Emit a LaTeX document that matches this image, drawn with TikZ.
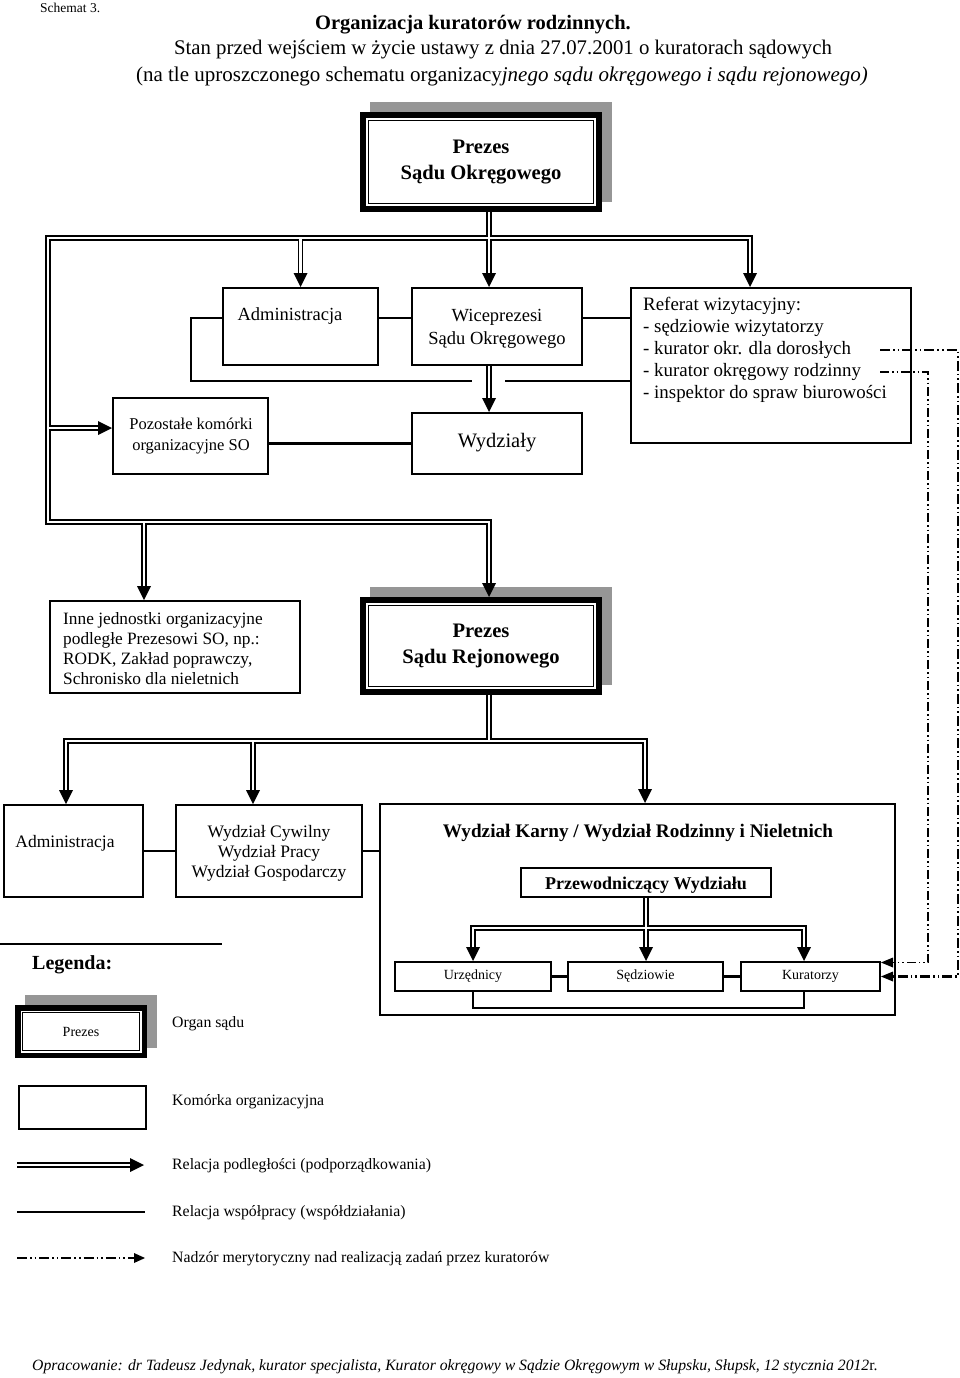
\documentclass[tikz,border=0pt]{standalone}
\usepackage{fontspec}
\setmainfont{Liberation Serif}
\usetikzlibrary{calc}
\definecolor{shadowgray}{RGB}{150,150,150}
\newcommand\fs[2]{\fontsize{#1pt}{#2pt}\selectfont}
\newcommand\tipS[1]{\fill (#1) -- ++(-7,-14) -- ++(14,0) -- cycle;}
\newcommand\tipE[1]{\fill (#1) -- ++(-14,-7) -- ++(0,14) -- cycle;}
\newcommand\tipW[1]{\fill (#1) -- ++(12,-5) -- ++(0,10) -- cycle;}
\newcommand\tipEs[1]{\fill (#1) -- ++(-11,-5) -- ++(0,10) -- cycle;}
% box by outer edges: name, x1, y1, x2, y2, text
\newcommand\bx[6]{\node[box, minimum width={#4-#2-1.6}, minimum height={#5-#3-1.6}] (#1) at ({(#2+#4)/2},{(#3+#5)/2}) {#6};}
% organ box: name, x1, y1, x2, y2, thickness, font, text
\newcommand\org[8]{%
  \fill[shadowgray] ({#2+10},{#3-10}) rectangle ({#4+10},{#5-10});
  \node[organ, line width=#6pt, font=#7, minimum width={#4-#2-#6}, minimum height={#5-#3-#6}] (#1) at ({(#2+#4)/2},{(#3+#5)/2}) {#8};
  \draw[line width=1.2pt] ([shift={(#6+2.2,#6+2.2)}]#1.north west) rectangle ([shift={(-#6-2.2,-#6-2.2)}]#1.south east);}
\newcommand\blk[2]{\draw[dblk,#1] #2;}
\newcommand\wht[2]{\draw[dwht,#1] #2;}
\newcommand\subnet[1]{%
  #1{arr}{(xso |- pso.south) -- (xso |- wice.north)}%
  #1{arrB}{(br |- psr.north) -- (br) -- (bl) -- (tl) -- (tr) -- (tr |- ref.north)}%
  #1{arr}{(adm.north |- tl) -- (adm.north)}%
  #1{arr}{(pl) -- (pl -| poz.west)}%
  #1{arr}{(xso |- wice.south) -- (xso |- wyd.north)}%
  #1{arr}{(ji) -- (ji |- inne.north)}%
  #1{plain}{(xso |- psr.south) -- (jb)}%
  #1{arrB}{(ja |- admR.north) -- (ja) -- (jk) -- (jk |- wk.north)}%
  #1{arr}{(jc) -- (jc |- wc.north)}%
  #1{arr}{(prz.south) -- (prz.south |- sed.north)}%
  #1{arrB}{(ju |- urz.north) -- (ju) -- (jkr) -- (jkr |- kur.north)}%
  #1{arr}{(ld1) -- (ld2)}%
}
\begin{document}
\begin{tikzpicture}[x=1pt,y=-1pt,
  box/.style={draw, line width=1.6pt, inner sep=0pt, align=center},
  organ/.style={draw, fill=white, inner sep=0pt, align=center},
  txt/.style={inner sep=0pt, align=center},
  dblk/.style={line width=5.4pt, line join=miter},
  dwht/.style={white, line width=2.4pt, line join=miter},
  arr/.style={shorten >=13pt},
  arrB/.style={shorten >=13pt, shorten <=13pt},
  plain/.style={},
  coop/.style={line width=2.6pt},
  nadz/.style={line width=2.2pt, dash pattern=on 10pt off 3pt on 1.6pt off 3pt on 1.6pt off 3pt},
  nadzb/.style={line width=1.5pt, dash pattern=on 9pt off 3pt on 1.5pt off 3pt on 1.5pt off 3pt}]
\useasboundingbox (0,0) rectangle (960,1378);
\fill[white] (0,0) rectangle (960,1378);

% ---- header
\node[txt, anchor=west, font=\fs{13.5}{16}] (schem) at (40,8) {Schemat 3.};
\node[txt, font=\bfseries\fs{20.5}{24}] (tit1) at (473,25) {Organizacja kuratorów rodzinnych.};
\node[txt, font=\fs{20.8}{24}] (tit2) at (503,50) {Stan przed wejściem w życie ustawy z dnia 27.07.2001 o kuratorach sądowych};
\node[txt, font=\fs{21}{24}] (tit3) at (502,76) {(na tle uproszczonego schematu organizacy\textit{jnego sądu okręgowego i sądu rejonowego)}};

% ---- coordinates
\coordinate (xso) at (489,0);
\coordinate (tl) at (48,238);
\coordinate (tr) at (750,238);
\coordinate (bl) at (48,522);
\coordinate (br) at (489,522);
\coordinate (pl) at (48,428);
\coordinate (ji) at (144,522);
\coordinate (ja) at (66,741);
\coordinate (jk) at (645,741);
\coordinate (jc) at (253,741);
\coordinate (jb) at (489,741);
\coordinate (ju) at (473,928);
\coordinate (jkr) at (804,928);
\coordinate (ld1) at (17,1165);
\coordinate (ld2) at (144,1165);
\coordinate (y318) at (0,318);
\coordinate (lp) at (191,318);
\coordinate (g1) at (472,381);
\coordinate (g2) at (505,381);
\coordinate (y1008) at (0,1008);

% ---- boxes
\org{pso}{360}{112}{602}{212}{6}{\bfseries\fs{20.6}{26}}{Prezes\\Sądu Okręgowego}
\bx{adm}{222}{287}{379}{366}{}
\bx{wice}{411}{287}{583}{366}{}
\bx{ref}{630}{287}{912}{444}{}
\bx{poz}{112}{397}{269}{475}{}
\bx{wyd}{411}{412}{583}{475}{}
\bx{inne}{49}{600}{301}{694}{}
\org{psr}{360}{597}{602}{695}{6}{\bfseries\fs{20.6}{26}}{Prezes\\Sądu Rejonowego}
\bx{admR}{3}{804}{144}{898}{}
\bx{wc}{175}{804}{363}{898}{}
\bx{wk}{379}{803}{896}{1016}{}
\bx{prz}{520}{867}{772}{898}{}
\bx{urz}{394}{961}{552}{992}{\fs{14}{16}Urzędnicy}
\bx{sed}{567}{961}{724}{992}{\fs{14}{16}Sędziowie}
\bx{kur}{740}{961}{881}{992}{\fs{14}{16}Kuratorzy}

% ---- box texts
\node[txt, font=\fs{18.5}{22}] (admt) at (290,316) {Administracja};
\node[txt, font=\fs{18.5}{23}] (wicet) at (497,329) {Wiceprezesi\\Sądu Okręgowego};
\node[txt, font=\fs{20.5}{22}] (wydt) at (497,443) {Wydziały};
\node[txt, font=\fs{16.5}{21}] (pozt) at (191,436) {Pozostałe komórki\\organizacyjne SO};
\node[txt, align=left, anchor=north west, font=\fs{18.9}{22}] (reft) at (643,297) {Referat wizytacyjny:\\- sędziowie wizytatorzy\\- kurator okr. dla dorosłych\\- kurator okręgowy rodzinny\\- inspektor do spraw biurowości};
\node[txt, align=left, anchor=west, font=\fs{17.3}{20}] (innet) at (63,649) {Inne jednostki organizacyjne\\podległe Prezesowi SO, np.:\\RODK, Zakład poprawczy,\\Schronisko dla nieletnich};
\node[txt, font=\fs{17.5}{20}] (admRt) at (65,843) {Administracja};
\node[txt, font=\fs{17.5}{20}] (wct) at (269,853) {Wydział Cywilny\\Wydział Pracy\\Wydział Gospodarczy};
\node[txt, font=\bfseries\fs{19.2}{22}] (wkt) at (638,833) {Wydział Karny / Wydział Rodzinny i Nieletnich};
\node[txt, font=\bfseries\fs{18}{20}] (przt) at (646,885) {Przewodniczący Wydziału};

% ---- legend
\draw[line width=1.4pt] (0,944) coordinate (lg1) -- (222,944) coordinate (lg2);
\node[txt, anchor=west, font=\bfseries\fs{20}{24}] (leg) at (32,965) {Legenda:};
\org{lprez}{15}{1005}{147}{1058}{5.5}{\fs{14}{16}}{Prezes}
\node[txt, anchor=west, font=\fs{15.8}{18}] (l1) at (172,1024) {Organ sądu};
\bx{lbox}{18}{1085}{147}{1130}{}
\node[txt, anchor=west, font=\fs{15.8}{18}] (l2) at (172,1102) {Komórka organizacyjna};
\node[txt, anchor=west, font=\fs{15.8}{18}] (l3) at (172,1166) {Relacja podległości (podporządkowania)};
\node[txt, anchor=west, font=\fs{15.8}{18}] (l4) at (172,1213) {Relacja współpracy (współdziałania)};
\node[txt, anchor=west, font=\fs{15.8}{18}] (l5) at (172,1259) {Nadzór merytoryczny nad realizacją zadań przez kuratorów};
\coordinate (ls1) at (17,1212);
\coordinate (ls2) at (145,1212);
\coordinate (le1) at (17,1258);
\coordinate (le2) at (145,1258);

% ---- footer
\node[txt, anchor=west, font=\fs{15.7}{19}] (foot) at (32,1367) {\textit{Opracowanie: dr Tadeusz Jedynak, kurator specjalista, Kurator okręgowy w Sądzie Okręgowym w Słupsku, Słupsk, 12 stycznia 2012}r.};

% ---- cooperation lines
\draw[coop] (adm.east |- y318) -- (wice.west |- y318);
\draw[coop] (wice.east |- y318) -- (ref.west |- y318);
\draw[coop] (adm.west |- y318) -- (lp) -- (lp |- g1) -- (g1);
\draw[coop] (g2) -- (g2 -| ref.west);
\draw[coop] (poz.east |- wyd.west) -- (wyd.west);
\draw[coop] (admR.east) -- (wc.west);
\draw[coop] (wc.east) -- (wc.east -| wk.west);
\draw[coop] (urz.east) -- (sed.west);
\draw[coop] (sed.east) -- (kur.west);
\draw[coop] (urz.south) -- (urz.south |- y1008) -- (jkr |- y1008) -- (jkr |- kur.south);
\draw[coop] (ls1) -- (ls2);

% ---- subordination (double) lines
\subnet\blk
\subnet\wht
\tipS{xso |- wice.north}
\tipS{xso |- psr.north}
\tipS{tr |- ref.north}
\tipS{adm.north}
\tipE{pl -| poz.west}
\tipS{xso |- wyd.north}
\tipS{ji |- inne.north}
\tipS{ja |- admR.north}
\tipS{jk |- wk.north}
\tipS{jc |- wc.north}
\tipS{prz.south |- sed.north}
\tipS{ju |- urz.north}
\tipS{jkr |- kur.north}
\tipE{ld2}

% ---- supervision (dash-dot) lines
\coordinate (d1) at (880,350);
\coordinate (d1r) at (958,350);
\coordinate (d2) at (880,372);
\coordinate (d2r) at (928,372);
\coordinate (k2) at ([yshift=14pt]kur.east);
\draw[nadz, shorten >=11pt] (d1) -- (d1r) -- (d1r |- kur.east) -- (kur.east);
\tipW{kur.east}
\draw[nadzb, shorten >=11pt] (d2) -- (d2r) -- (d2r |- k2) -- (k2);
\tipW{k2}
\draw[nadz, shorten >=10pt] (le1) -- (le2);
\tipEs{le2}
\end{tikzpicture}
\end{document}
